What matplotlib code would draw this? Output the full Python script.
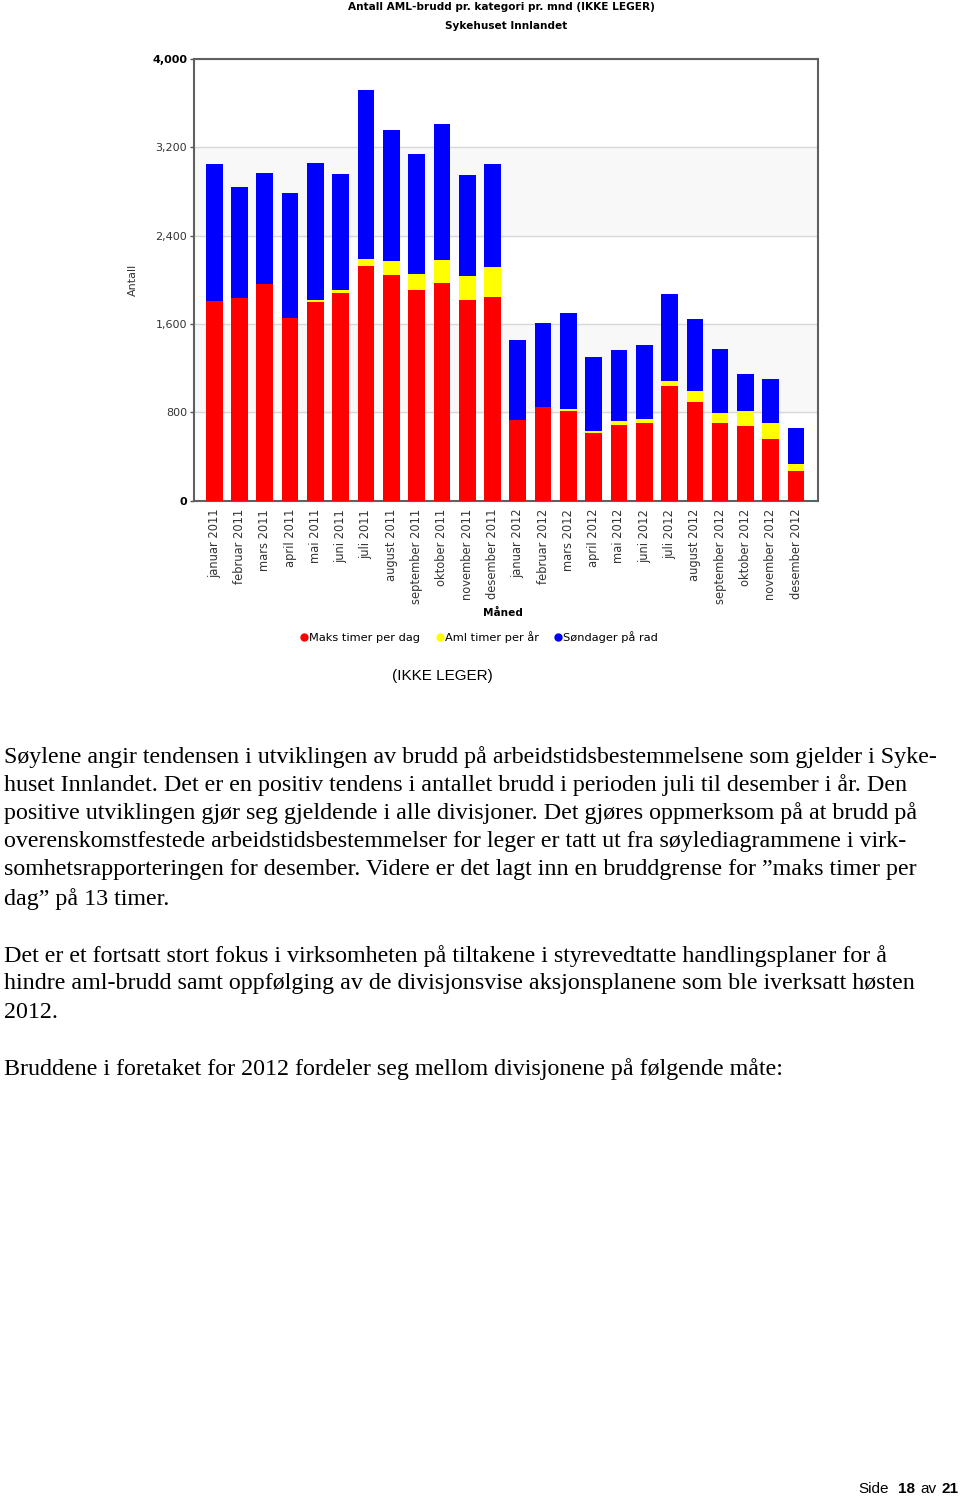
import numpy as np
import matplotlib
matplotlib.use("Agg")
import matplotlib.pyplot as plt
from matplotlib.lines import Line2D

months = ['januar', 'februar', 'mars', 'april', 'mai', 'juni', 'juli',
          'august', 'september', 'oktober', 'november', 'desember']
labels = [m + ' 2011' for m in months] + [m + ' 2012' for m in months]

# (stack tops -> segment sizes)
maks_timer = [1807, 1835, 1958, 1650, 1795, 1877, 2127, 2043, 1904, 1970, 1816, 1841,
              729, 847, 811, 609, 687, 702, 1037, 892, 699, 675, 557, 270]
aml_timer = [0, 0, 0, 0, 24, 33, 61, 130, 145, 209, 215, 277,
             0, 0, 21, 18, 33, 34, 46, 100, 94, 136, 145, 58]
sondager = [1239, 1002, 1009, 1133, 1236, 1051, 1528, 1187, 1087, 1232, 915, 928,
            728, 758, 867, 670, 643, 676, 785, 652, 582, 338, 396, 326]

series_names = ['Maks timer per dag', 'Aml timer per år', 'Søndager på rad']
colors = ['#ff0000', '#ffff00', '#0000ff']

yticks = [0, 800, 1600, 2400, 3200, 4000]

fig = plt.figure(figsize=(9.6, 14.99), dpi=100)
ax = fig.add_axes([0.2021, 0.6661, 0.6495, 0.2945])

x = np.arange(len(labels))
bottom = np.zeros(len(labels))
for vals, col, name in zip([maks_timer, aml_timer, sondager], colors, series_names):
    ax.bar(x, vals, bottom=bottom, width=0.66, color=col, label=name, zorder=3)
    bottom += np.array(vals)

# alternating bands + grid
for i in range(len(yticks) - 1):
    if i % 2 == 1:
        ax.axhspan(yticks[i], yticks[i + 1], color='#f8f8f8', zorder=0)
ax.set_yticks(yticks)
ax.grid(axis='y', color='#d8d8d8', linewidth=1, zorder=1)
ax.set_ylim(0, 4000)
ax.set_xlim(-0.8, len(labels) - 1 + 0.85)

ax.set_yticklabels([f'{v:,}' for v in yticks], fontsize=8, color='#333333')
for t, v in zip(ax.get_yticklabels(), yticks):
    if v in (0, 4000):
        t.set_fontweight('bold')
        t.set_color('black')
ax.tick_params(axis='y', length=3, width=1, color='#555555', pad=2)

ax.set_xticks(x)
ax.set_xticklabels(labels, rotation=90, fontsize=8.3, color='#333333')
ax.tick_params(axis='x', length=0, pad=6)

for s in ax.spines.values():
    s.set_color('#606060')
    s.set_linewidth(1.5)

ax.set_ylabel('Antall', fontsize=8, color='#333333', labelpad=10)

fig.text(0.522, 0.9953, 'Antall AML-brudd pr. kategori pr. mnd (IKKE LEGER)',
         ha='center', va='center', fontsize=7.6, fontweight='bold')
fig.text(0.527, 0.9827, 'Sykehuset Innlandet', ha='center', va='center',
         fontsize=7.6, fontweight='bold')
fig.text(0.524, 1 - 613 / 1499, 'Måned', ha='center', va='center',
         fontsize=7.6, fontweight='bold')

handles = [Line2D([], [], marker='o', linestyle='', color=c, markersize=5)
           for c in colors]
fig.legend(handles, series_names, loc='center', bbox_to_anchor=(0.499, 1 - 637 / 1499),
           ncol=3, frameon=False, fontsize=8.2, handletextpad=0.05,
           columnspacing=1.3, handlelength=0.8)

fig.text(0.4605, 1 - 676 / 1499, '(IKKE LEGER)', ha='center', va='center',
         fontsize=11, family='Liberation Sans')

body = [
    (757, 'Søylene angir tendensen i utviklingen av brudd på arbeidstidsbestemmelsene som gjelder i Syke-'),
    (785, 'huset Innlandet. Det er en positiv tendens i antallet brudd i perioden juli til desember i år. Den'),
    (813, 'positive utviklingen gjør seg gjeldende i alle divisjoner. Det gjøres oppmerksom på at brudd på'),
    (842, 'overenskomstfestede arbeidstidsbestemmelser for leger er tatt ut fra søylediagrammene i virk-'),
    (870, 'somhetsrapporteringen for desember. Videre er det lagt inn en bruddgrense for ”maks timer per'),
    (899, 'dag” på 13 timer.'),
    (956, 'Det er et fortsatt stort fokus i virksomheten på tiltakene i styrevedtatte handlingsplaner for å'),
    (984, 'hindre aml-brudd samt oppfølging av de divisjonsvise aksjonsplanene som ble iverksatt høsten'),
    (1012, '2012.'),
    (1069, 'Bruddene i foretaket for 2012 fordeler seg mellom divisjonene på følgende måte:'),
]
for ypx, line in body:
    fig.text(4 / 960, 1 - ypx / 1499, line, ha='left', va='center',
             fontsize=17.3, family='Liberation Serif')

yf = 1 - 1489 / 1499
fig.text(858 / 960, yf, 'Side', ha='left', va='center', fontsize=11,
         family='Liberation Sans')
fig.text(898 / 960, yf, '18', ha='left', va='center', fontsize=11,
         family='Liberation Sans', fontweight='bold')
fig.text(920 / 960, yf, 'av', ha='left', va='center', fontsize=11,
         family='Liberation Sans')
fig.text(941 / 960, yf, '21', ha='left', va='center', fontsize=11,
         family='Liberation Sans', fontweight='bold')

fig.savefig('out.png', dpi=100, facecolor='white')
